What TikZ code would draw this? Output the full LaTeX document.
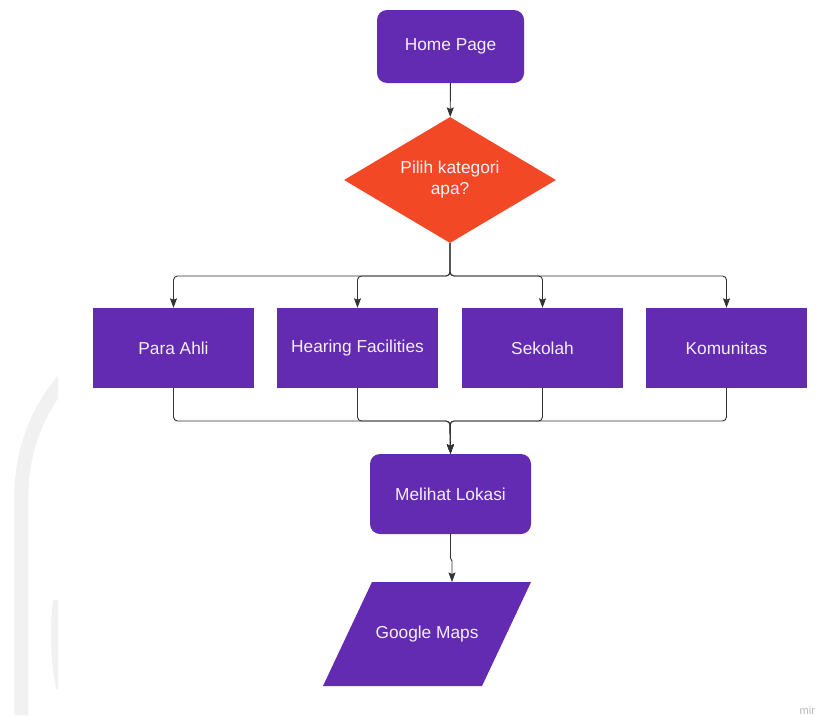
\documentclass[tikz,border=0pt]{standalone}
\usepackage{fontspec}
\setmainfont{Liberation Sans}
\usetikzlibrary{shapes.geometric,arrows.meta,calc}

\definecolor{boxviolet}{HTML}{632AB2}
\definecolor{choiceorange}{HTML}{F24826}
\definecolor{boxtext}{HTML}{F5F0FC}
\definecolor{linegray}{HTML}{333333}
\definecolor{markgray}{HTML}{F1F1F1}
\definecolor{logogray}{HTML}{B8B8B8}

\tikzset{
  label font/.style={font=\fontsize{17.3}{21}\selectfont},
  procbox/.style={rectangle, fill=boxviolet, text=boxtext, label font,
    inner sep=0pt, minimum width=161pt, minimum height=80pt},
  roundbox/.style={procbox, rounded corners=10pt},
  choicebox/.style={diamond, fill=choiceorange, text=boxtext, label font,
    align=center, inner sep=0pt, aspect=1.68,
    minimum width=212pt, minimum height=126pt},
  iotext/.style={text=boxtext, label font, inner sep=0pt},
  flow/.style={draw=linegray, line width=0.9pt, rounded corners=4pt,
    -{Stealth[length=9.5pt,width=7pt,inset=1.5pt]}},
}

\begin{document}
\begin{tikzpicture}[x=1pt,y=-1pt]
  \useasboundingbox (0,0) rectangle (816,715);
  \clip (0,0) rectangle (816,715);

  % faint background emblem along the left margin
  \begin{scope}
    \clip (0,0) rectangle (58,715);
    \draw[markgray, line width=14pt]
      (21.4,715) -- (21.4,495) arc[start angle=180, end angle=130, radius=178.6pt];
    \begin{scope}
      \clip (0,600) rectangle (58,688);
      \fill[markgray] (338,635) circle[radius=287pt];
    \end{scope}
  \end{scope}

  % nodes
  \node[roundbox, minimum width=147pt, minimum height=73pt] (home) at (450.5,46.5) {Home Page};
  \node[choicebox] (choice) at (450,180) {Pilih kategori\\apa?};

  \node[procbox] (ahli)  at (173.5,348) {Para Ahli};
  \node[procbox] (hear)  at (357.5,348) {Hearing Facilities};
  \node[procbox] (sek)   at (542.5,348) {Sekolah};
  \node[procbox] (kom)   at (726.5,348) {Komunitas};

  \node[roundbox] (lokasi) at (450.5,494) {Melihat Lokasi};

  % input/output parallelogram
  \fill[boxviolet] (372,582) -- (531,582) -- (482,686) -- (323,686) -- cycle;
  \node[iotext] (maps) at (427,634) {Google Maps};
  \coordinate (mapstop) at (452,582);

  \coordinate (split) at (450,276);
  \coordinate (join)  at (450,421);

  % connectors
  \draw[flow] (home) -- (choice);

  \draw[flow] (choice.south) -- (split) -| (ahli.north);
  \draw[flow] (choice.south) -- (split) -| (hear.north);
  \draw[flow] (choice.south) -- (split) -| (sek.north);
  \draw[flow] (choice.south) -- (split) -| (kom.north);

  \draw[flow] (ahli.south) |- (join) -- (lokasi.north);
  \draw[flow] (hear.south) |- (join) -- (lokasi.north);
  \draw[flow] (sek.south)  |- (join) -- (lokasi.north);
  \draw[flow] (kom.south)  |- (join) -- (lokasi.north);

  \draw[flow, rounded corners=0pt] (lokasi.south) -- ++(0,24) -- ++(1.5,3) -- (mapstop);

  % corner mark
  \node[anchor=base west, inner sep=0pt, text=logogray, font=\fontsize{11}{13}\selectfont]
    (brand) at (799.5,714) {mir};
\end{tikzpicture}
\end{document}
